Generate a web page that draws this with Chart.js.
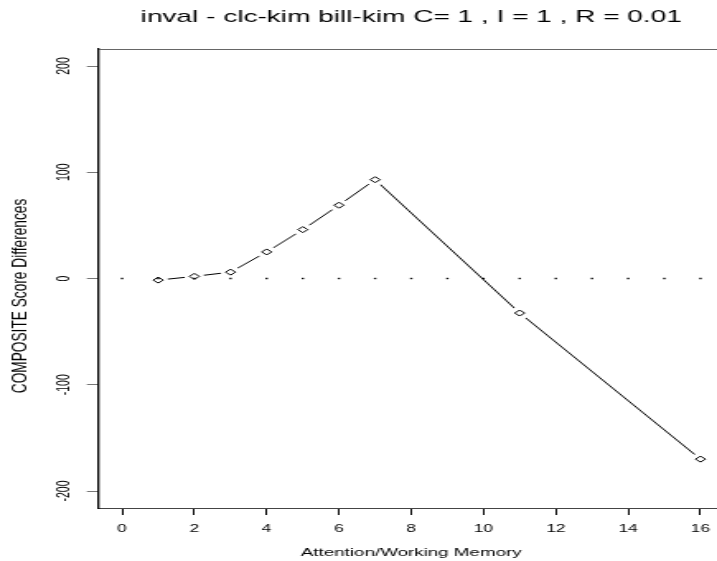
<!DOCTYPE html>
<html><head><meta charset="utf-8">
<script src="https://cdn.jsdelivr.net/npm/chart.js@4/dist/chart.umd.min.js"></script>
<style>
html,body{margin:0;padding:0;background:#fff;overflow:hidden;width:717px;height:561px}
#c{display:block;width:445px;height:561px;transform:scaleX(1.648276);transform-origin:0 0}
</style></head><body>
<canvas id="c" width="445" height="561"></canvas>
<script>
// ---- data ----
const xValues = [1, 2, 3, 4, 5, 6, 7, 11, 16];
const yValues = [-1.5, 2, 6, 25, 46, 69, 93, -32.5, -170];
const refX = [0, 1, 2, 3, 4, 5, 6, 7, 8, 9, 10, 11, 12, 13, 14, 15, 16];
const refY = [0, 0, 0, 0, 0, 0, 0, 0, 0, 0, 0, 0, 0, 0, 0, 0, 0];
const xTicks = [0, 2, 4, 6, 8, 10, 12, 14, 16];
const yTicks = [-200, -100, 0, 100, 200];
const titleText = 'inval - clc-kim bill-kim C= 1 , I = 1 , R = 0.01';
const xLabel = 'Attention/Working Memory';
const yLabel = 'COMPOSITE Score Differences';

const FONT = "'Liberation Sans', Arial, Helvetica, sans-serif";
const pts = (xs, ys) => xs.map((x, i) => ({x, y: ys[i]}));

const frame = {
  id: 'frame',
  afterDatasetsDraw(chart) {
    const {ctx, chartArea: {left, right, top}} = chart;
    ctx.save();
    ctx.strokeStyle = '#666';
    ctx.lineWidth = 1;
    ctx.beginPath();
    ctx.moveTo(left, top + 0.5);
    ctx.lineTo(right, top + 0.5);
    ctx.stroke();
    ctx.restore();
  },
  afterDraw(chart) {
    const ctx = chart.ctx;
    ctx.save();
    ctx.translate(12, 296);
    ctx.rotate(-Math.PI / 2);
    ctx.fillStyle = '#000';
    ctx.font = "13.7px " + FONT;
    ctx.textAlign = 'center';
    ctx.textBaseline = 'middle';
    ctx.fillText(yLabel, 0, 0);
    ctx.restore();
  }
};

new Chart(document.getElementById('c'), {
  type: 'scatter',
  data: {
    datasets: [
      { data: pts(refX, refY), showLine: false, pointStyle: 'rect', pointRadius: 1.0,
        backgroundColor: '#000', borderWidth: 0, order: 0 },
      { data: pts(xValues, yValues), showLine: false, pointStyle: 'rectRot', pointRadius: 3,
        backgroundColor: '#fff', borderColor: '#000', borderWidth: 1, order: 1 },
      { data: pts(xValues, yValues), showLine: false, pointStyle: 'circle', pointRadius: 6,
        backgroundColor: '#fff', borderWidth: 0, order: 2 },
      { data: pts(xValues, yValues), showLine: true, pointRadius: 0, borderColor: '#000',
        borderWidth: 1, tension: 0, order: 3 }
    ]
  },
  options: {
    responsive: false,
    animation: false,
    devicePixelRatio: 1,
    layout: { padding: { left: 0, top: 0, bottom: 0, right: 4 } },
    plugins: {
      legend: { display: false },
      tooltip: { enabled: false },
      title: {
        display: true, text: titleText, fullSize: false, color: '#000',
        font: { family: FONT, size: 17, weight: 'normal', lineHeight: 1.2 },
        padding: { top: 7, bottom: 21.6 }
      }
    },
    scales: {
      x: {
        type: 'linear', position: 'bottom', min: -0.64, max: 16.64,
        afterBuildTicks: s => { s.ticks = xTicks.map(v => ({value: v})); },
        afterFit: s => { s.height = 53; s.paddingLeft = 0; s.paddingRight = 0; },
        ticks: { color: '#000', font: { family: FONT, size: 10.5 }, padding: 8,
                 minRotation: 0, maxRotation: 0, autoSkip: false, includeBounds: false },
        grid: { display: true, drawOnChartArea: false, drawTicks: true, tickLength: 7,
                tickColor: '#000', tickWidth: 1 },
        border: { display: true, color: '#444', width: 1 },
        title: { display: true, text: xLabel, color: '#000',
                 font: { family: FONT, size: 11.4, lineHeight: 1.2 }, padding: { top: 0, bottom: 1 } }
      },
      y: {
        type: 'linear', position: 'left', min: -216, max: 216,
        afterBuildTicks: s => { s.ticks = yTicks.map(v => ({value: v})); },
        afterFit: s => { s.width = 60; s.paddingTop = 0; s.paddingBottom = 0; },
        ticks: { color: '#000', font: { family: FONT, size: 10.5 }, padding: 2.7,
                 minRotation: 90, maxRotation: 90, crossAlign: 'center', autoSkip: false, includeBounds: false },
        grid: { display: true, drawOnChartArea: false, drawTicks: true, tickLength: 7.3,
                tickColor: '#777', tickWidth: 1 },
        border: { display: true, color: '#000', width: 1.3 },
        title: { display: false }
      }
    }
  },
  plugins: [frame]
});
</script>
</body></html>
